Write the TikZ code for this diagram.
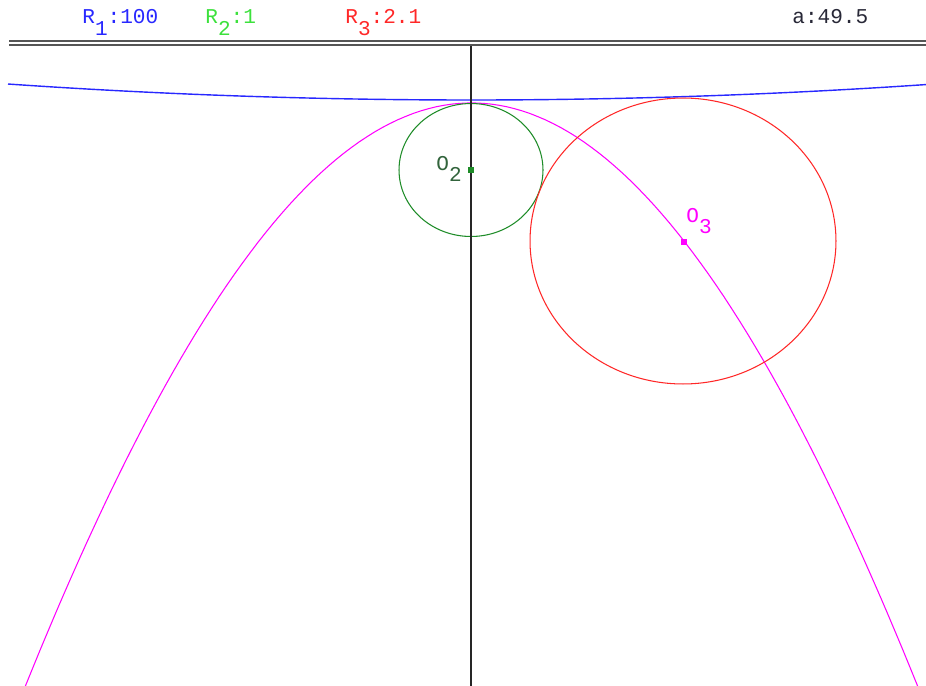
\documentclass[tikz,border=0pt]{standalone}
\usepackage{fontspec}
\setmonofont{Liberation Mono}
\usetikzlibrary{positioning}
\definecolor{circBlue}{RGB}{40, 40, 255}
\definecolor{circGreen}{RGB}{30, 140, 40}
\definecolor{labelGreen}{RGB}{60, 225, 60}
\definecolor{circRed}{RGB}{255, 40, 40}
\definecolor{curveMagenta}{RGB}{255, 0, 255}
\definecolor{frameGrey}{RGB}{85, 85, 85}
\definecolor{valueGrey}{RGB}{40, 40, 55}
\definecolor{centreGreen}{RGB}{50, 100, 60}
\newcommand{\lowsub}[1]{\raisebox{-6.5pt}{#1}}
\begin{document}
\begin{tikzpicture}[
  x=0.02cm, y=-0.02cm,
  readout/.style={anchor=base west, inner sep=0pt, font=\ttfamily\fontsize{12}{14}\selectfont},
  curve/.style={line width=0.6pt},
  centredot/.style={minimum size=3.5pt, inner sep=0pt}
]
\useasboundingbox (0,0) rectangle (926,686);
\fill[white] (0,0) rectangle (926,686);
\node[readout, circBlue] (radiusOne) at (82,24) {R\lowsub{1}:100};
\node[readout, labelGreen] (radiusTwo) at (205,24) {R\lowsub{2}:1};
\node[readout, circRed] (radiusThree) at (345,24) {R\lowsub{3}:2.1};
\node[readout, valueGrey] (angleA) at (792,24) {a:49.5};
\coordinate (ruleLeftA) at (9,41);
\coordinate (ruleRightA) at (926,41);
\coordinate (ruleLeftB) at (9,45);
\coordinate (ruleRightB) at (926,45);
\draw[frameGrey, line width=0.9pt] (ruleLeftA) -- (ruleRightA);
\draw[frameGrey, line width=0.9pt] (ruleLeftB) -- (ruleRightB);
\begin{scope}
\clip (0,47) rectangle (926,686);
\draw[curve, circBlue, line width=0.8pt] plot[domain=-463:455, samples=80] (471+\x, {100-0.7455*(\x/100)^2});
\draw[curve, curveMagenta] plot[domain=-462:462, samples=120] (471.5+\x, {103+5022*(sqrt(1+(\x/900)^2)-1)});
\coordinate (centreTwo) at (471,170);
\coordinate (centreThree) at (684,242);
\draw[curve, circGreen] (centreTwo) ellipse [x radius=1.44cm, y radius=1.33cm];
\draw[curve, circRed] (683,241) ellipse [x radius=3.06cm, y radius=2.86cm];
\coordinate (axisTop) at (471,46);
\coordinate (axisBottom) at (471,686);
\draw[black!85, line width=0.8pt] (axisTop) -- (axisBottom);
\end{scope}
\node[centredot, fill=circGreen] (dotTwo) at (centreTwo) {};
\node[centredot, fill=curveMagenta] (dotThree) at (centreThree) {};
\node[readout, centreGreen] (nameTwo) at (436,170) {O\lowsub{2}};
\node[readout, curveMagenta] (nameThree) at (686,222) {O\lowsub{3}};
\end{tikzpicture}
\end{document}
